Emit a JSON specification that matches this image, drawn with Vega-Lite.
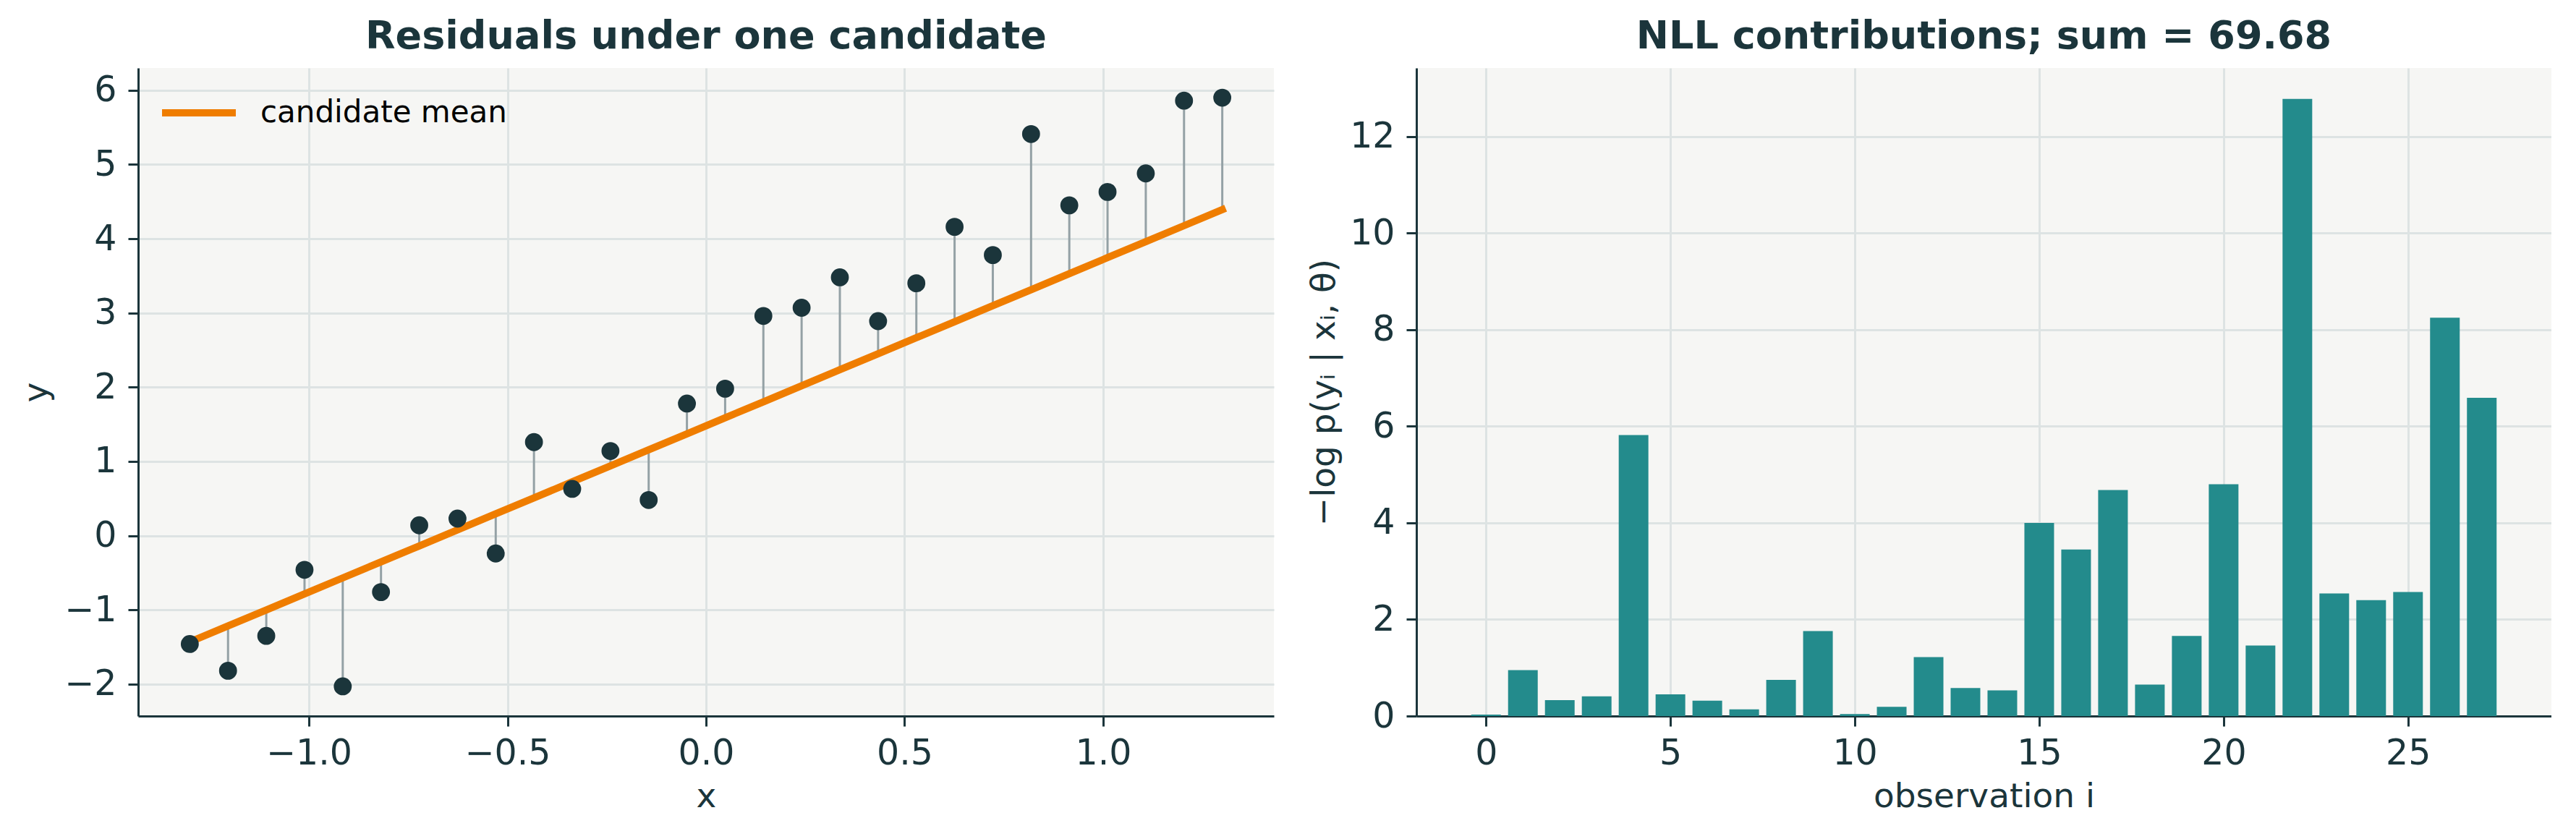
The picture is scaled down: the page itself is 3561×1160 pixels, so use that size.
{
  "$schema": "https://vega.github.io/schema/vega-lite/v6.json",
  "background": "white",
  "padding": {"left": 26, "top": 24, "right": 0, "bottom": 10},
  "spacing": 45,
  "config": {
    "font": "DejaVu Sans",
    "view": {"fill": "#f6f6f4", "stroke": null},
    "axis": {
      "domainColor": "#1b353b",
      "domainWidth": 3,
      "tickColor": "#1b353b",
      "tickWidth": 3,
      "tickSize": 14,
      "labelFontSize": 49,
      "labelColor": "#1b353b",
      "labelFlush": false,
      "labelOverlap": false,
      "titleFontSize": 47,
      "titleFontWeight": "normal",
      "titleColor": "#1b353b",
      "gridColor": "#dde3e3",
      "gridWidth": 3
    },
    "title": {
      "fontSize": 54,
      "fontWeight": "bold",
      "color": "#1b353b",
      "frame": "group",
      "anchor": "middle",
      "baseline": "alphabetic",
      "offset": 16
    }
  },
  "datasets": {
    "obs": [
      {"i": 0, "x": -1.3, "y": -1.46, "mu": -1.432, "nll": 0.03},
      {"i": 1, "x": -1.2037, "y": -1.82, "mu": -1.216, "nll": 0.95},
      {"i": 2, "x": -1.1074, "y": -1.35, "mu": -1.001, "nll": 0.33},
      {"i": 3, "x": -1.0111, "y": -0.46, "mu": -0.785, "nll": 0.41},
      {"i": 4, "x": -0.9148, "y": -2.03, "mu": -0.569, "nll": 5.82},
      {"i": 5, "x": -0.8185, "y": -0.76, "mu": -0.353, "nll": 0.45},
      {"i": 6, "x": -0.7222, "y": 0.14, "mu": -0.138, "nll": 0.32},
      {"i": 7, "x": -0.6259, "y": 0.23, "mu": 0.078, "nll": 0.14},
      {"i": 8, "x": -0.5296, "y": -0.24, "mu": 0.294, "nll": 0.75},
      {"i": 9, "x": -0.4333, "y": 1.26, "mu": 0.509, "nll": 1.76},
      {"i": 10, "x": -0.337, "y": 0.63, "mu": 0.725, "nll": 0.04},
      {"i": 11, "x": -0.2407, "y": 1.14, "mu": 0.941, "nll": 0.19},
      {"i": 12, "x": -0.1444, "y": 0.48, "mu": 1.157, "nll": 1.22},
      {"i": 13, "x": -0.0481, "y": 1.78, "mu": 1.372, "nll": 0.58},
      {"i": 14, "x": 0.0481, "y": 1.98, "mu": 1.588, "nll": 0.53},
      {"i": 15, "x": 0.1444, "y": 2.96, "mu": 1.803, "nll": 4.0},
      {"i": 16, "x": 0.2407, "y": 3.07, "mu": 2.019, "nll": 3.45},
      {"i": 17, "x": 0.337, "y": 3.48, "mu": 2.235, "nll": 4.68},
      {"i": 18, "x": 0.4333, "y": 2.89, "mu": 2.451, "nll": 0.65},
      {"i": 19, "x": 0.5296, "y": 3.4, "mu": 2.666, "nll": 1.66},
      {"i": 20, "x": 0.6259, "y": 4.16, "mu": 2.882, "nll": 4.8},
      {"i": 21, "x": 0.7222, "y": 3.78, "mu": 3.098, "nll": 1.46},
      {"i": 22, "x": 0.8185, "y": 5.41, "mu": 3.313, "nll": 12.78},
      {"i": 23, "x": 0.9148, "y": 4.45, "mu": 3.529, "nll": 2.54},
      {"i": 24, "x": 1.0111, "y": 4.63, "mu": 3.745, "nll": 2.4},
      {"i": 25, "x": 1.1074, "y": 4.88, "mu": 3.961, "nll": 2.57},
      {"i": 26, "x": 1.2037, "y": 5.86, "mu": 4.176, "nll": 8.25},
      {"i": 27, "x": 1.3, "y": 5.9, "mu": 4.392, "nll": 6.59}
    ]
  },
  "hconcat": [
    {
      "width": 1570,
      "height": 896,
      "title": "Residuals under one candidate",
      "data": {"name": "obs"},
      "encoding": {
        "x": {
          "field": "x",
          "type": "quantitative",
          "scale": {"domain": [-1.43, 1.43], "nice": false, "zero": false},
          "axis": {"values": [-1, -0.5, 0, 0.5, 1], "format": ".1f", "title": "x", "labelPadding": 13, "titlePadding": 12}
        }
      },
      "layer": [
        {
          "mark": {"type": "rule", "color": "#94a1a5", "strokeWidth": 3},
          "encoding": {
            "y": {
              "field": "y",
              "type": "quantitative",
              "scale": {"domain": [-2.43, 6.3], "nice": false, "zero": false},
              "axis": {"values": [-2, -1, 0, 1, 2, 3, 4, 5, 6], "format": "d", "title": "y", "labelPadding": 16, "titlePadding": 14}
            },
            "y2": {"field": "mu"}
          }
        },
        {
          "mark": {"type": "line", "strokeWidth": 10, "strokeCap": "square"},
          "encoding": {
            "y": {"field": "mu", "type": "quantitative"},
            "color": {
              "datum": "candidate mean",
              "scale": {"range": ["#ef7d00"]},
              "legend": {
                "title": null,
                "orient": "none",
                "legendX": 28,
                "legendY": 6,
                "padding": 0,
                "symbolType": "stroke",
                "symbolSize": 10400,
                "symbolStrokeWidth": 10,
                "labelFontSize": 42,
                "labelColor": "black",
                "labelOffset": 29,
                "labelLimit": 1000
              }
            }
          }
        },
        {
          "mark": {"type": "point", "filled": true, "shape": "circle", "size": 616, "color": "#1b353b", "opacity": 1},
          "encoding": {
            "y": {"field": "y", "type": "quantitative"}
          }
        }
      ]
    },
    {
      "width": 1569,
      "height": 896,
      "title": "NLL contributions; sum = 69.68",
      "data": {"name": "obs"},
      "mark": {"type": "bar", "width": 41, "color": "#238b8c"},
      "encoding": {
        "x": {
          "field": "i",
          "type": "quantitative",
          "scale": {"domain": [-1.79, 28.79], "nice": false, "zero": false},
          "axis": {"values": [0, 5, 10, 15, 20, 25], "title": "observation i", "labelPadding": 13, "titlePadding": 12}
        },
        "y": {
          "field": "nll",
          "type": "quantitative",
          "scale": {"domain": [0, 13.42], "nice": false},
          "axis": {"values": [0, 2, 4, 6, 8, 10, 12], "title": "−log p(yᵢ | xᵢ, θ)", "labelPadding": 16, "titlePadding": 11}
        }
      }
    }
  ]
}
